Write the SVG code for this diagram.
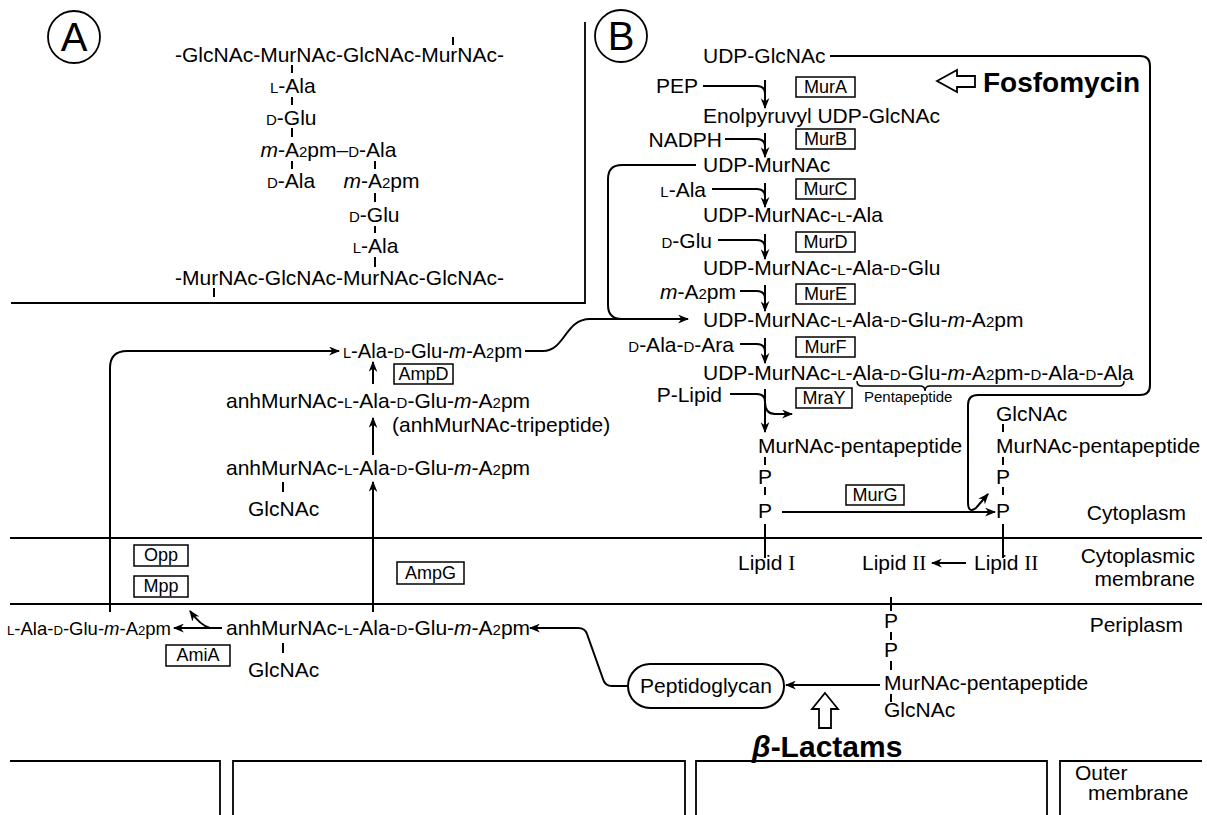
<svg xmlns="http://www.w3.org/2000/svg" width="1207" height="815" viewBox="0 0 1207 815">
<defs>
<style>
text{font-family:"Liberation Sans",Arial,Helvetica,sans-serif;font-size:21px;fill:#000}
.sc{font-size:15px}
.it{font-style:italic}
.enz{font-size:18px;text-anchor:middle}
.small{font-size:15px}
.big{font-size:40px;text-anchor:middle}
.bold{font-weight:bold;font-size:28px}
.e{text-anchor:end}
.c{text-anchor:middle}
.box{fill:none;stroke:#000;stroke-width:1.5}
.ln{fill:none;stroke:#000;stroke-width:2}
.frame{fill:none;stroke:#000;stroke-width:1.8}
.tick{fill:none;stroke:#000;stroke-width:2}
.hollow{fill:#fff;stroke:#000;stroke-width:1.8;stroke-linejoin:miter}
.arr{fill:none;stroke:#000;stroke-width:2;marker-end:url(#ah)}
</style>
<marker id="ah" viewBox="0 0 10 8" refX="9" refY="4" markerWidth="11" markerHeight="9" orient="auto" markerUnits="userSpaceOnUse"><path d="M0,0 L10,4 L0,8 L3,4 Z"/></marker>
</defs>
<rect width="1207" height="815" fill="#fff"/>

<g id="frame" class="frame">
<path d="M585,22 V303 H11"/>
<path d="M10,538 H1202 M10,604 H1202"/>
<path d="M10,761 H220 V815 M233,815 V761 H685 V815 M696,815 V761 H1047 V815 M1060,815 V761 H1202"/>
</g>

<g id="panel-A-label"><circle cx="74" cy="37" r="26" class="frame"/><text x="74" y="51" class="big">A</text></g>
<g id="panel-B-label"><circle cx="621" cy="36" r="26" class="frame"/><text x="621" y="50" class="big">B</text></g>

<g id="peptidoglycan-structure">
<text x="175" y="62">-GlcNAc-MurNAc-GlcNAc-MurNAc-</text>
<text x="270" y="93"><tspan class="sc">L</tspan>-Ala</text>
<text x="266" y="125"><tspan class="sc">D</tspan>-Glu</text>
<text x="260.5" y="157"><tspan class="it">m</tspan>-A<tspan class="sc">2</tspan>pm–<tspan class="sc">D</tspan>-Ala</text>
<text x="267" y="188"><tspan class="sc">D</tspan>-Ala</text>
<text x="343.5" y="188"><tspan class="it">m</tspan>-A<tspan class="sc">2</tspan>pm</text>
<text x="349" y="222"><tspan class="sc">D</tspan>-Glu</text>
<text x="352.7" y="253"><tspan class="sc">L</tspan>-Ala</text>
<text x="175" y="285">-MurNAc-GlcNAc-MurNAc-GlcNAc-</text>
<path class="tick" d="M453,37V45 M292,65V73 M292,97V105 M292,128V137 M292,161V169 M375,161V169 M375,193V202 M375,226V233 M375,257V267 M214,288V297"/>
</g>

<g id="udp-glcnac"><text x="703" y="63">UDP-GlcNAc</text></g>
<g id="pep"><text x="698" y="93" class="e">PEP</text></g>
<g id="murA"><rect x="796" y="77" width="59" height="20" class="box"/><text x="825.5" y="93" class="enz">MurA</text></g>
<g id="enolpyruvyl"><text x="703" y="123">Enolpyruvyl UDP-GlcNAc</text></g>
<g id="nadph"><text x="722" y="147" class="e">NADPH</text></g>
<g id="murB"><rect x="796" y="129" width="59" height="20" class="box"/><text x="825.5" y="145" class="enz">MurB</text></g>
<g id="udp-murnac"><text x="703" y="172">UDP-MurNAc</text></g>
<g id="l-ala"><text x="706" y="197" class="e"><tspan class="sc">L</tspan>-Ala</text></g>
<g id="murC"><rect x="796" y="179" width="59" height="20" class="box"/><text x="825.5" y="195" class="enz">MurC</text></g>
<g id="udp-murnac-ala"><text x="703" y="222">UDP-MurNAc-<tspan class="sc">L</tspan>-Ala</text></g>
<g id="d-glu"><text x="712" y="248" class="e"><tspan class="sc">D</tspan>-Glu</text></g>
<g id="murD"><rect x="796" y="232" width="59" height="20" class="box"/><text x="825.5" y="248" class="enz">MurD</text></g>
<g id="udp-murnac-ala-glu"><text x="703" y="275">UDP-MurNAc-<tspan class="sc">L</tspan>-Ala-<tspan class="sc">D</tspan>-Glu</text></g>
<g id="a2pm"><text x="736" y="299" class="e"><tspan class="it">m</tspan>-A<tspan class="sc">2</tspan>pm</text></g>
<g id="murE"><rect x="796" y="284" width="59" height="20" class="box"/><text x="825.5" y="300" class="enz">MurE</text></g>
<g id="udp-tripeptide"><text x="703" y="327">UDP-MurNAc-<tspan class="sc">L</tspan>-Ala-<tspan class="sc">D</tspan>-Glu-<tspan class="it">m</tspan>-A<tspan class="sc">2</tspan>pm</text></g>
<g id="d-ala-d-ara"><text x="734" y="352" class="e"><tspan class="sc">D</tspan>-Ala-<tspan class="sc">D</tspan>-Ara</text></g>
<g id="murF"><rect x="796" y="337" width="59" height="20" class="box"/><text x="825.5" y="353" class="enz">MurF</text></g>
<g id="udp-pentapeptide"><text x="703" y="380">UDP-MurNAc-<tspan class="sc">L</tspan>-Ala-<tspan class="sc">D</tspan>-Glu-<tspan class="it">m</tspan>-A<tspan class="sc">2</tspan>pm-<tspan class="sc">D</tspan>-Ala-<tspan class="sc">D</tspan>-Ala</text>
<path d="M857,381 Q857,386 862,386 H920 Q925,386 925,391 Q925,386 930,386 H1119 Q1124,386 1124,381" fill="none" stroke="#000" stroke-width="1.5"/>
<text x="864" y="402" class="small">Pentapeptide</text></g>
<g id="p-lipid"><text x="722" y="402" class="e">P-Lipid</text></g>
<g id="mraY"><rect x="796" y="388" width="56" height="20" class="box"/><text x="824" y="404" class="enz">MraY</text></g>
<g id="lipid-I-cyto"><text x="758" y="453">MurNAc-pentapeptide</text>
<text x="758" y="484">P</text><text x="758" y="518">P</text>
<path class="tick" d="M765,457V465 M765,487V495 M765,524V558"/>
<text x="738" y="570">Lipid <tspan font-family="Liberation Serif,serif">I</tspan></text></g>
<g id="murG"><rect x="846" y="485" width="58" height="20" class="box"/><text x="875" y="501" class="enz">MurG</text></g>
<g id="lipid-II-cyto"><text x="996" y="421">GlcNAc</text>
<text x="996" y="453">MurNAc-pentapeptide</text>
<text x="996" y="484">P</text><text x="996" y="518">P</text>
<path class="tick" d="M1003,424V432 M1003,457V465 M1003,487V495 M1003,524V558"/>
<text x="974" y="570">Lipid <tspan font-family="Liberation Serif,serif">II</tspan></text></g>
<g id="lipid-II-flipped"><text x="862" y="570">Lipid <tspan font-family="Liberation Serif,serif">II</tspan></text>
<path class="tick" d="M891,597V611 M891,632V640 M891,661V670 M891,694V702"/>
<text x="884" y="628">P</text><text x="884" y="657">P</text>
<text x="884" y="690">MurNAc-pentapeptide</text>
<text x="884" y="717">GlcNAc</text></g>
<g id="peptidoglycan"><rect x="628" y="664" width="156" height="44" rx="22" class="ln"/><text x="706" y="693" class="c">Peptidoglycan</text></g>

<g id="fosfomycin"><polygon points="937,81 957,70 957,76 975,76 975,87 957,87 957,92" class="hollow"/><text x="983" y="92" class="bold">Fosfomycin</text></g>
<g id="beta-lactams"><polygon points="825,693 838,709 831,709 831,728 819,728 819,709 812,709" class="hollow"/><text x="752" y="757" class="bold" style="font-size:30px"><tspan class="it">β</tspan>-Lactams</text></g>

<g id="tripeptide"><text x="343" y="358" style="font-size:20.2px"><tspan style="font-size:14.5px">L</tspan>-Ala-<tspan style="font-size:14.5px">D</tspan>-Glu-<tspan class="it">m</tspan>-A<tspan style="font-size:14.5px">2</tspan>pm</text></g>
<g id="ampD"><rect x="394" y="364" width="59" height="20" class="box"/><text x="423.5" y="380" class="enz">AmpD</text></g>
<g id="anh-tripeptide"><text x="226" y="408">anhMurNAc-<tspan class="sc">L</tspan>-Ala-<tspan class="sc">D</tspan>-Glu-<tspan class="it">m</tspan>-A<tspan class="sc">2</tspan>pm</text>
<text x="392" y="432">(anhMurNAc-tripeptide)</text></g>
<g id="glcnac-anh-tripeptide-cyto"><text x="226" y="475">anhMurNAc-<tspan class="sc">L</tspan>-Ala-<tspan class="sc">D</tspan>-Glu-<tspan class="it">m</tspan>-A<tspan class="sc">2</tspan>pm</text>
<path class="tick" d="M283,482V492"/><text x="248" y="516">GlcNAc</text></g>
<g id="opp"><rect x="134" y="545" width="54" height="21" class="box"/><text x="161" y="561" class="enz">Opp</text></g>
<g id="mpp"><rect x="134" y="576" width="54" height="21" class="box"/><text x="161" y="592" class="enz">Mpp</text></g>
<g id="ampG"><rect x="397" y="562" width="67" height="22" class="box"/><text x="430.5" y="579" class="enz">AmpG</text></g>
<g id="tripeptide-peri"><text x="7" y="635" style="font-size:18.5px"><tspan style="font-size:13.2px">L</tspan>-Ala-<tspan style="font-size:13.2px">D</tspan>-Glu-<tspan class="it">m</tspan>-A<tspan style="font-size:13.2px">2</tspan>pm</text></g>
<g id="amiA"><rect x="166" y="645" width="64" height="21" class="box"/><text x="198" y="661" class="enz">AmiA</text></g>
<g id="glcnac-anh-tripeptide-peri"><text x="226" y="635">anhMurNAc-<tspan class="sc">L</tspan>-Ala-<tspan class="sc">D</tspan>-Glu-<tspan class="it">m</tspan>-A<tspan class="sc">2</tspan>pm</text>
<path class="tick" d="M283,643V653"/><text x="248" y="677">GlcNAc</text></g>
<g id="compartments"><text x="1186" y="520" class="e">Cytoplasm</text>
<text x="1195" y="563" class="e">Cytoplasmic</text><text x="1195" y="586" class="e">membrane</text>
<text x="1183" y="632" class="e">Periplasm</text>
<text x="1075" y="780">Outer</text><text x="1088" y="800">membrane</text></g>

<g id="connectors">
<path class="ln" d="M703,86 H757 Q765,86 765,94"/><path class="arr" d="M765,80 V108"/>
<path class="ln" d="M725,139 H757 Q765,139 765,147"/><path class="arr" d="M765,133 V157"/>
<path class="ln" d="M712,189 H757 Q765,189 765,197"/><path class="arr" d="M765,183 V207"/>
<path class="ln" d="M718,240 H757 Q765,240 765,248"/><path class="arr" d="M765,234 V259"/>
<path class="ln" d="M740,291 H757 Q765,291 765,299"/><path class="arr" d="M765,285 V311"/>
<path class="ln" d="M740,344 H757 Q765,344 765,352"/><path class="arr" d="M765,338 V363"/>
<path class="ln" d="M730,394 H757 Q765,394 765,402"/><path class="arr" d="M765,389 V432"/>
<path class="arr" d="M765,402 Q765,414 775,414 H792"/>
<path class="arr" d="M782,512 H995"/>
<path class="arr" d="M830,56 H1140 Q1150,56 1150,66 V385 Q1150,395 1140,395 H978 Q968,395 968,405 V502 Q968,514 976,508 L988,494"/>
<path class="arr" d="M966,563 H932"/>
<path class="arr" d="M880,685 H786"/>
<path class="arr" d="M628,686 H612 Q605,686 603,679 L587,634 Q585,628 578,628 H530"/>
<path class="arr" d="M110,612 V368 Q110,351 127,351 H339"/>
<path class="ln" d="M696,165 H622 Q608,165 608,179 V305 Q608,319 622,319"/>
<path class="arr" d="M525,351 H543 C565,351 565,319 590,319 H688"/>
<path class="arr" d="M373,384 V362"/>
<path class="arr" d="M373,455 V418"/>
<path class="arr" d="M373,612 V482"/>
<path class="arr" d="M222,628 H174"/>
<path class="arr" d="M210,628 Q201,626 190,611"/>
</g>
</svg>
